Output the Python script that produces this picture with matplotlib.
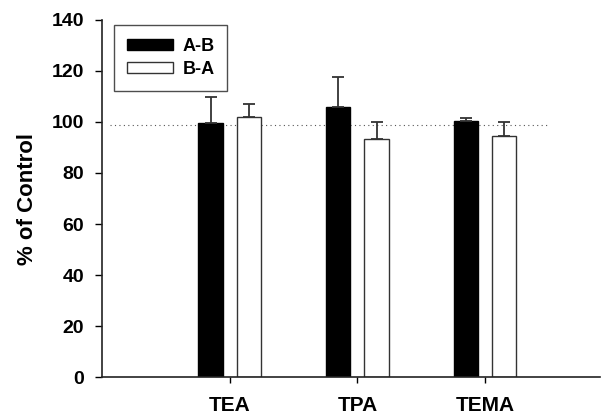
import matplotlib.pyplot as plt
import numpy as np

plt.rcParams['font.family'] = ['Liberation Sans', 'DejaVu Sans']

categories = ['TEA', 'TPA', 'TEMA']
ab_mean = [99.6, 106.0, 100.3]
ab_err = [10.2, 11.5, 1.4]
ba_mean = [102.0, 93.5, 94.4]
ba_err = [5.0, 6.5, 5.6]
control_level = 99

x = np.arange(1, len(categories) + 1)
w = 0.19

fig = plt.figure(figsize=(6.05, 4.19), dpi=100)
ax = fig.add_axes([0.1686, 0.1002, 0.8231, 0.8521])

# dotted control line
ax.plot([0.06, 3.51], [control_level, control_level], linestyle=(0, (1, 3)),
        color='#555555', linewidth=0.8, zorder=1)

ax.bar(x - 0.15, ab_mean, w, color='black', edgecolor='black', label='A-B', zorder=2)
ax.errorbar(x - 0.15, ab_mean, yerr=[np.zeros(3), ab_err], fmt='none',
            ecolor='#333333', elinewidth=1.3, capsize=4, capthick=1.3, zorder=3)
ax.bar(x + 0.15, ba_mean, w, color='white', edgecolor='#333333', linewidth=1.0,
       label='B-A', zorder=2)
ax.errorbar(x + 0.15, ba_mean, yerr=[np.zeros(3), ba_err], fmt='none',
            ecolor='#333333', elinewidth=1.3, capsize=4, capthick=1.3, zorder=3)

ax.set_xlim(0, 3.9)
ax.set_ylim(0, 140)
ax.set_yticks(range(0, 141, 20))
ax.set_xticks(x)
ax.set_xticklabels(categories)

for s in ['top', 'right']:
    ax.spines[s].set_visible(False)
for s in ['left', 'bottom']:
    ax.spines[s].set_linewidth(1.2)
    ax.spines[s].set_color('#222222')

ax.tick_params(axis='y', direction='out', length=5, width=1, pad=8, labelsize=14)
ax.tick_params(axis='x', direction='out', length=4, width=1, pad=10, labelsize=15)
for lbl in ax.get_xticklabels() + ax.get_yticklabels():
    lbl.set_fontweight('bold')

ax.set_ylabel('% of Control', fontsize=16, fontweight='bold', labelpad=10)

leg = ax.legend(loc='upper left', bbox_to_anchor=(0.024, 0.986), frameon=True,
                fancybox=False, edgecolor='#222222', handlelength=2.55,
                handleheight=0.6, handletextpad=0.55, borderpad=0.7,
                labelspacing=0.35, borderaxespad=0,
                prop={'weight': 'bold', 'size': 13})
leg.get_frame().set_linewidth(1.0)

fig.savefig('out.png', dpi=100)
